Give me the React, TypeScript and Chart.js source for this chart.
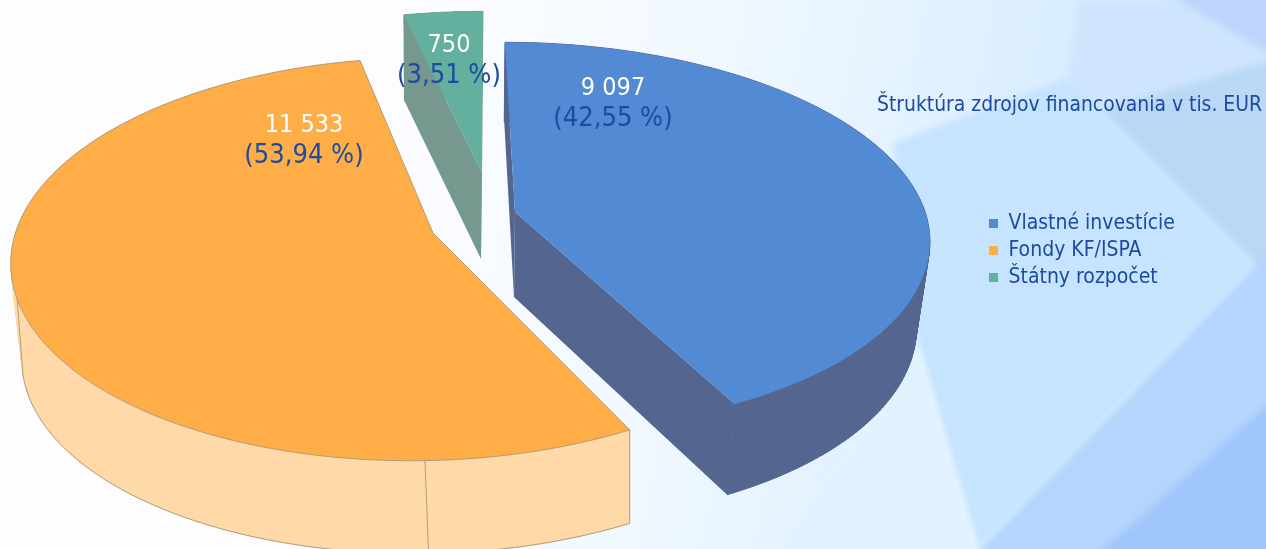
import React, { useEffect, useRef } from "react";
import { Chart, registerables } from "chart.js";

Chart.register(...registerables);

const categories = ["Vlastné investície", "Fondy KF/ISPA", "Štátny rozpočet"];
const amounts = [9097, 11533, 750];
const amountLabels = ["9 097", "11 533", "750"];
const shareLabels = ["(42,55 %)", "(53,94 %)", "(3,51 %)"];
const faceColors = ["#528BD4", "#FFAE47", "#63B09E"];
const wallColors = ["#54668F", "#FFD9A8", "#76988F"];
const titleText = "Štruktúra zdrojov financovania v tis. EUR";
const textBlue = "#1D4BA0";
const FONT = "'DejaVu Sans Condensed', 'Noto Sans', sans-serif";

// tip: slice apex; a,b,d,e,k,m: perspective of the top face; wall: offset + scale of the lower rim
const views = [
  { tx: 515, ty: 212, a: 410, b: 11.3, d: 0, e: 191, k: 0.1256, m: 0, wx: 514, wy: 297, sx: 0.97, sy: 1.03, lx: 613, ly: 103 },
  { tx: 433, ty: 233, a: 405, b: -7, d: 0, e: 198, k: 0.13, m: -0.03, wx: 436.5, wy: 330, sx: 0.982, sy: 0.982, lx: 304, ly: 140 },
  { tx: 482, ty: 173, a: 404, b: -1.12, d: 0, e: 181, k: 0.12, m: 0, wx: 481, wy: 259, sx: 0.98, sy: 1.0, lx: 449, ly: 60 },
];

function face(v: any, ang: number) {
  const u = Math.cos(ang), w = Math.sin(ang);
  const q = 1 - v.k * w - v.m * u;
  return [(v.a * u + v.b * w) / q, (v.d * u + v.e * w) / q];
}
const top = (v: any, ang: number) => { const p = face(v, ang); return [v.tx + p[0], v.ty + p[1]]; };
const low = (v: any, ang: number) => { const p = face(v, ang); return [v.wx + p[0] * v.sx, v.wy + p[1] * v.sy]; };

function poly(ctx: CanvasRenderingContext2D, pts: number[][]) {
  ctx.beginPath();
  pts.forEach((p, i) => (i ? ctx.lineTo(p[0], p[1]) : ctx.moveTo(p[0], p[1])));
  ctx.closePath();
}

function drawBackdrop(ctx: CanvasRenderingContext2D, W: number, H: number) {
  const g = ctx.createLinearGradient(380, 120, 1080, 260);
  g.addColorStop(0, "#FDFDFF");
  g.addColorStop(0.45, "#F0F8FF");
  g.addColorStop(1, "#D6ECFF");
  ctx.fillStyle = g;
  ctx.fillRect(0, 0, W, H);
  const shapes: [string, number[][]][] = [
    ["#CFE5FD", [[1078, 0], [1290, 0], [1290, 100], [1100, 115], [1068, 78]]],
    ["#BDD5FB", [[1160, -10], [1290, 65], [1290, -10]]],
    ["#BAD8F5", [[1100, 110], [1290, 55], [1290, 285], [1255, 265]]],
    ["#B5D5FE", [[1255, 265], [1290, 240], [1290, 570], [960, 570]]],
    ["#A0C6FC", [[1290, 385], [1290, 570], [1080, 570]]],
    ["#C6E3FF", [[893, 143], [1068, 78], [1255, 265], [977, 549], [918, 343]]],
    ["#E3F2FF", [[918, 343], [985, 570], [760, 570]]],
  ];
  ctx.save();
  ctx.filter = "blur(3px)";
  shapes.forEach(([c, pts]) => { ctx.fillStyle = c; poly(ctx, pts); ctx.fill(); });
  ctx.restore();
}

const pie3d = {
  id: "pie3d",
  beforeDraw(chart: any) {
    drawBackdrop(chart.ctx, chart.width, chart.height);
    const l = chart.legend;
    l.left = 983; l.right = 1260; l.top = 207; l.bottom = 300;
    const t = chart.titleBlock;
    t.left = 877; t.right = 1266; t.top = 93; t.bottom = 123;
  },
  beforeDatasetsDraw(chart: any) {
    const ctx: CanvasRenderingContext2D = chart.ctx;
    const arcs = chart.getDatasetMeta(0).data;
    ctx.save();
    [1, 0, 2].forEach((i) => {
      const v = views[i];
      const s = arcs[i].startAngle, e = arcs[i].endAngle;
      const n = 160;
      const angs = Array.from({ length: n + 1 }, (_, j) => s + ((e - s) * j) / n);
      const tp = [v.tx, v.ty], lp = [v.wx, v.wy];
      // walls
      ctx.fillStyle = wallColors[i];
      ctx.strokeStyle = wallColors[i];
      ctx.lineWidth = 1;
      for (let j = 0; j < n; j++) {
        poly(ctx, [top(v, angs[j]), top(v, angs[j + 1]), low(v, angs[j + 1]), low(v, angs[j])]);
        ctx.fill();
        ctx.stroke();
      }
      poly(ctx, [tp, top(v, s), low(v, s), lp]); ctx.fill();
      poly(ctx, [tp, top(v, e), low(v, e), lp]); ctx.fill();
      // outlines of the orange wall
      if (i === 1) {
        ctx.strokeStyle = "#B39C7C";
        ctx.lineWidth = 1;
        ctx.beginPath();
        const a0 = top(v, s), b0 = low(v, s);
        ctx.moveTo(a0[0], a0[1]);
        ctx.lineTo(b0[0], b0[1]);
        angs.forEach((a) => {
          if (a <= Math.PI - 0.2) { const p = low(v, a); ctx.lineTo(p[0], p[1]); }
        });
        const c0 = top(v, Math.PI - 0.05);
        ctx.lineTo(c0[0], c0[1]);
        ctx.stroke();
        const d0 = top(v, Math.PI / 2), d1 = low(v, Math.PI / 2);
        ctx.beginPath();
        ctx.moveTo(d0[0], d0[1]);
        ctx.lineTo(d1[0], d1[1]);
        ctx.stroke();
      }
      // top face
      poly(ctx, [tp, ...angs.map((a) => top(v, a))]);
      ctx.fillStyle = faceColors[i];
      ctx.fill();
      if (i === 1) { ctx.strokeStyle = "#B39C7C"; ctx.lineWidth = 1; ctx.stroke(); }
    });
    ctx.textAlign = "center";
    ctx.textBaseline = "middle";
    views.forEach((v, i) => {
      ctx.font = `25px ${FONT}`;
      ctx.fillStyle = "#FFFFFF";
      ctx.fillText(amountLabels[i], v.lx, v.ly - 15);
      ctx.font = `27px ${FONT}`;
      ctx.fillStyle = textBlue;
      ctx.fillText(shareLabels[i], v.lx, v.ly + 16);
    });
    ctx.restore();
    return false;
  },
};

export default function App() {
  const ref = useRef<HTMLCanvasElement>(null);
  useEffect(() => {
    const chart = new Chart(ref.current!, {
      type: "pie",
      data: {
        labels: categories,
        datasets: [{ data: amounts, backgroundColor: faceColors, borderWidth: 0 }],
      },
      options: {
        responsive: false,
        animation: false,
        rotation: 0,
        plugins: {
          tooltip: { enabled: false },
          title: {
            display: true,
            text: titleText,
            align: "start",
            color: textBlue,
            font: { family: FONT, size: 20.9, weight: "normal" },
            padding: 0,
          },
          legend: {
            position: "right",
            align: "start",
            labels: {
              boxWidth: 9,
              boxHeight: 9,
              padding: 6,
              color: textBlue,
              font: { family: FONT, size: 21 },
            },
          },
        },
      },
      plugins: [pie3d],
    } as any);
    return () => chart.destroy();
  }, []);
  return (
    <div style={{ position: "fixed", left: 0, top: 0, width: 1266, height: 549, overflow: "hidden" }}>
      <canvas ref={ref} width={1266} height={549} style={{ display: "block" }} />
    </div>
  );
}
